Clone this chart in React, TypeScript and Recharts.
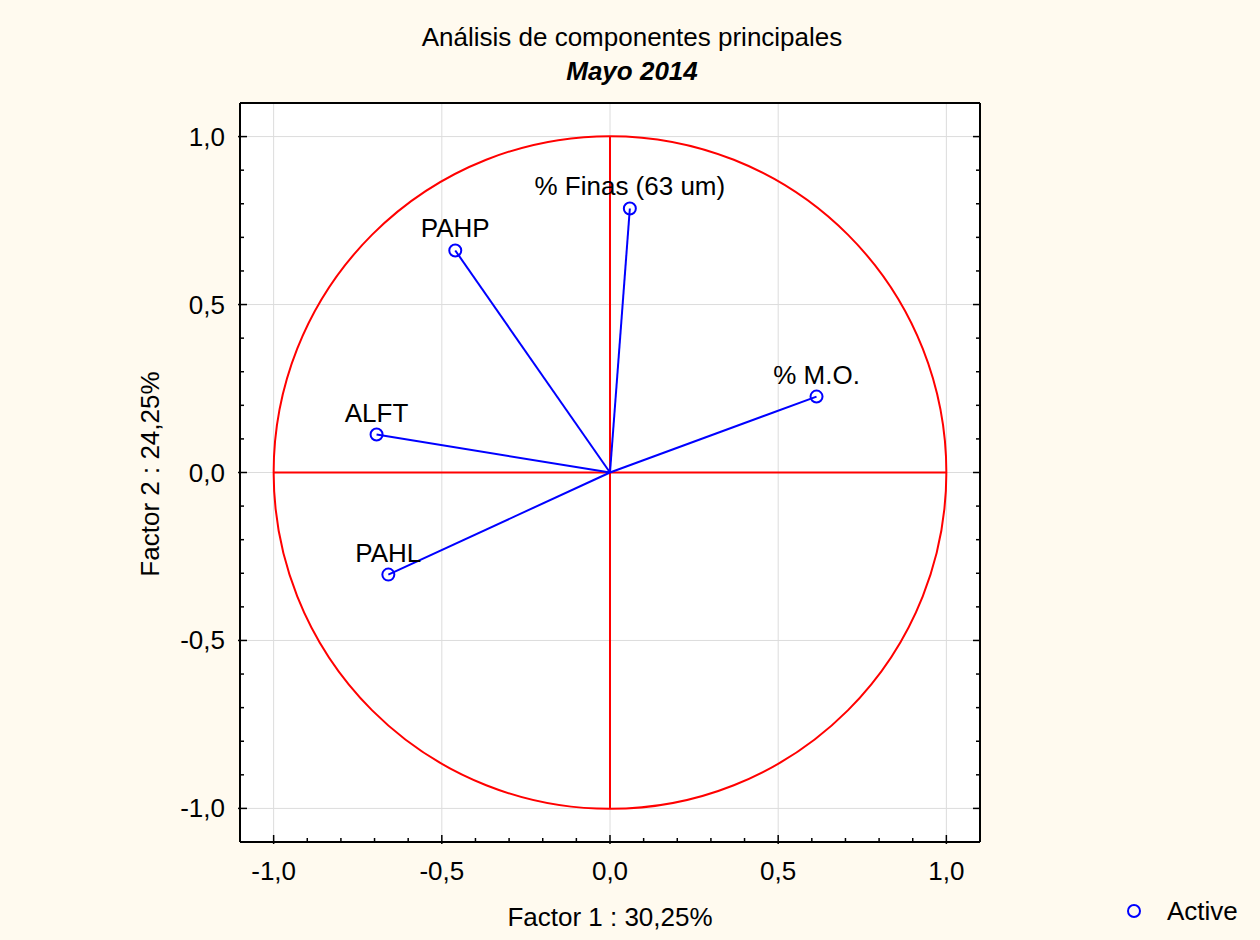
import {
  ReferenceDot,
  ReferenceLine,
  Scatter,
  ScatterChart,
  XAxis,
  YAxis,
} from "recharts";

const variables = ["% Finas (63 um)", "PAHP", "% M.O.", "ALFT", "PAHL"];
const factor1 = [0.059, -0.46, 0.614, -0.694, -0.659];
const factor2 = [0.786, 0.661, 0.226, 0.113, -0.304];
const majorTicks = [-1.0, -0.5, 0.0, 0.5, 1.0];
const minorTicks = [
  -1.0, -0.9, -0.8, -0.7, -0.6, -0.5, -0.4, -0.3, -0.2, -0.1, 0.0, 0.1, 0.2,
  0.3, 0.4, 0.5, 0.6, 0.7, 0.8, 0.9, 1.0,
];
const DOMAIN: [number, number] = [-1.1, 1.1];

const W = 1260;
const H = 940;
const PLOT = { left: 240, top: 103, width: 740, height: 739 };
const FONT = "Arial, 'Liberation Sans', sans-serif";
const FS = 26;
const BG = "#fffaef";

const points = variables.map((name, i) => ({ name, x: factor1[i], y: factor2[i] }));

const isMajor = (v: number) => Math.abs(v * 2 - Math.round(v * 2)) < 1e-6;
const fmt = (v: number) => v.toFixed(1).replace(".", ",");

const tickStroke = { stroke: "#000", strokeWidth: 1.5 };

function BottomTick({ x, y, payload }: any) {
  const major = isMajor(payload.value);
  return (
    <g>
      <line x1={x} x2={x} y1={y + (major ? 2 : 0)} y2={y - (major ? 7 : 4)} {...tickStroke} />
      {major && (
        <text x={x} y={y + 38} textAnchor="middle" fontSize={FS} fontFamily={FONT} fill="#000">
          {fmt(payload.value)}
        </text>
      )}
    </g>
  );
}

function TopTick({ x, y, payload }: any) {
  const major = isMajor(payload.value);
  return <line x1={x} x2={x} y1={y} y2={y + (major ? 7 : 4)} {...tickStroke} />;
}

function LeftTick({ x, y, payload }: any) {
  const major = isMajor(payload.value);
  return (
    <g>
      <line x1={x - (major ? 2 : 0)} x2={x + (major ? 7 : 4)} y1={y} y2={y} {...tickStroke} />
      {major && (
        <text x={x - 15} y={y + 9} textAnchor="end" fontSize={FS} fontFamily={FONT} fill="#000">
          {fmt(payload.value)}
        </text>
      )}
    </g>
  );
}

function RightTick({ x, y, payload }: any) {
  const major = isMajor(payload.value);
  return <line x1={x} x2={x - (major ? 7 : 4)} y1={y} y2={y} {...tickStroke} />;
}

// circle marker plus the variable name above it
function Marker({ cx, cy, payload }: any) {
  return (
    <g>
      <circle cx={cx} cy={cy} r={6} fill="none" stroke="#0000ff" strokeWidth={2} />
      <text x={cx} y={cy - 13} textAnchor="middle" fontSize={FS} fontFamily={FONT} fill="#000">
        {payload.name}
      </text>
    </g>
  );
}

const axisLine = { stroke: "#000", strokeWidth: 2 };

export default function App() {
  const unitPx = PLOT.width / (DOMAIN[1] - DOMAIN[0]);
  return (
    <div
      style={{
        position: "absolute",
        left: 0,
        top: 0,
        width: W,
        height: H,
        background: BG,
        fontFamily: FONT,
        color: "#000",
        fontSize: FS,
        lineHeight: "30px",
      }}
    >
      <div
        style={{
          position: "absolute",
          left: PLOT.left,
          top: PLOT.top,
          width: PLOT.width,
          height: PLOT.height,
          background: "#fff",
        }}
      />
      <div style={{ position: "absolute", left: 0, width: W, top: 22, textAlign: "center", paddingLeft: 2 }}>
        Análisis de componentes principales
      </div>
      <div
        style={{
          position: "absolute",
          left: 0,
          width: W,
          top: 56,
          textAlign: "center",
          fontWeight: "bold",
          fontStyle: "italic",
          paddingLeft: 2,
        }}
      >
        Mayo 2014
      </div>
      <div style={{ position: "absolute", left: 410, width: 400, top: 902, textAlign: "center" }}>
        Factor 1 : 30,25%
      </div>
      <div
        style={{
          position: "absolute",
          left: 150 - 200,
          top: 474 - 15,
          width: 400,
          textAlign: "center",
          transform: "rotate(-90deg)",
          transformOrigin: "200px 15px",
        }}
      >
        Factor 2 : 24,25%
      </div>
      <div style={{ position: "absolute", left: 1126, top: 896, display: "flex", alignItems: "center" }}>
        <svg width={16} height={30}>
          <circle cx={8} cy={15} r={6} fill="none" stroke="#0000ff" strokeWidth={2} />
        </svg>
        <span style={{ marginLeft: 25 }}>Active</span>
      </div>
      <div style={{ position: "absolute", left: 0, top: 0 }}>
        <ScatterChart
          width={W}
          height={H}
          margin={{
            top: PLOT.top - 1,
            left: PLOT.left - 1,
            right: W - PLOT.left - PLOT.width - 1,
            bottom: H - PLOT.top - PLOT.height - 1,
          }}
        >
          <XAxis
            xAxisId="b"
            type="number"
            dataKey="x"
            domain={DOMAIN}
            ticks={minorTicks}
            interval={0}
            height={1}
            tickSize={0}
            tickMargin={0}
            tickLine={false}
            tick={BottomTick}
            axisLine={axisLine}
            allowDataOverflow
          />
          <XAxis
            xAxisId="t"
            orientation="top"
            type="number"
            domain={DOMAIN}
            ticks={minorTicks}
            interval={0}
            height={1}
            tickSize={0}
            tickMargin={0}
            tickLine={false}
            tick={TopTick}
            axisLine={axisLine}
            allowDataOverflow
          />
          <YAxis
            yAxisId="l"
            type="number"
            dataKey="y"
            domain={DOMAIN}
            ticks={minorTicks}
            interval={0}
            width={1}
            tickSize={0}
            tickMargin={0}
            tickLine={false}
            tick={LeftTick}
            axisLine={axisLine}
            allowDataOverflow
          />
          <YAxis
            yAxisId="r"
            orientation="right"
            type="number"
            domain={DOMAIN}
            ticks={minorTicks}
            interval={0}
            width={1}
            tickSize={0}
            tickMargin={0}
            tickLine={false}
            tick={RightTick}
            axisLine={axisLine}
            allowDataOverflow
          />
          {majorTicks.map((t) => (
            <ReferenceLine key={"gx" + t} xAxisId="b" yAxisId="l" x={t} stroke="#dcdcdc" strokeWidth={1} />
          ))}
          {majorTicks.map((t) => (
            <ReferenceLine key={"gy" + t} xAxisId="b" yAxisId="l" y={t} stroke="#dcdcdc" strokeWidth={1} />
          ))}
          <ReferenceDot
            xAxisId="b"
            yAxisId="l"
            x={0}
            y={0}
            r={unitPx}
            fill="none"
            stroke="#ff0000"
            strokeWidth={2}
          />
          <ReferenceLine
            xAxisId="b"
            yAxisId="l"
            segment={[
              { x: majorTicks[0], y: 0 },
              { x: majorTicks[4], y: 0 },
            ]}
            stroke="#ff0000"
            strokeWidth={2}
          />
          <ReferenceLine
            xAxisId="b"
            yAxisId="l"
            segment={[
              { x: 0, y: majorTicks[0] },
              { x: 0, y: majorTicks[4] },
            ]}
            stroke="#ff0000"
            strokeWidth={2}
          />
          {points.map((p) => (
            <ReferenceLine
              key={"v" + p.name}
              xAxisId="b"
              yAxisId="l"
              segment={[
                { x: 0, y: 0 },
                { x: p.x, y: p.y },
              ]}
              stroke="#0000ff"
              strokeWidth={2}
            />
          ))}
          <Scatter
            xAxisId="b"
            yAxisId="l"
            data={points}
            shape={Marker}
            isAnimationActive={false}
          />
        </ScatterChart>
      </div>
    </div>
  );
}
